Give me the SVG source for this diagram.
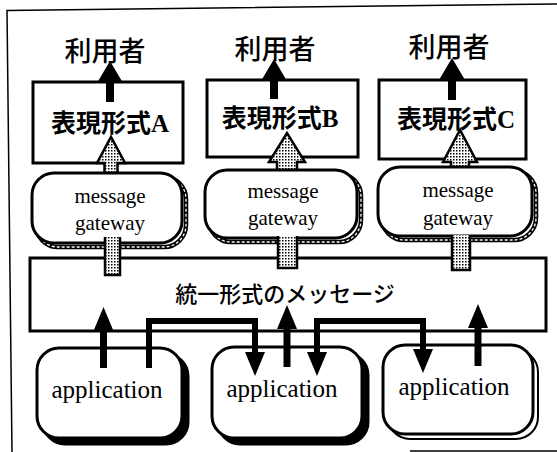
<svg xmlns="http://www.w3.org/2000/svg" width="557" height="452" viewBox="0 0 557 452">
<defs>
<style>
.frame{fill:none;stroke:#000;stroke-width:1.5}
.box{fill:#fff;stroke:#000;stroke-width:3}
.gw{fill:#fff;stroke:#000;stroke-width:3}
.gwsh{fill:none;stroke:#000;stroke-width:4.5}
.gwdash{fill:none;stroke:#fff;stroke-width:1.3;stroke-dasharray:3 2}
.appsh{fill:#000;stroke:#000;stroke-width:3}
.appsh2{fill:#fff;stroke:#000;stroke-width:2}
.dot{fill:url(#dots);stroke:#000;stroke-width:2.5;stroke-linejoin:miter}
.dotfill{fill:url(#dots);stroke:none}
.dotedge{fill:none;stroke:#000;stroke-width:2.5}
.conn{fill:none;stroke:#000;stroke-width:6}
.up{fill:none;stroke:#000;stroke-width:7}
.top{fill:none;stroke:#000;stroke-width:8}
.user{font-family:"Noto Sans CJK JP",sans-serif;font-size:27px;font-weight:500;text-anchor:middle}
.fmt{font-family:"Liberation Serif","DejaVu Serif","Noto Sans CJK JP",serif;font-size:25px;font-weight:700;text-anchor:middle}
.gwt{font-family:"Liberation Serif","DejaVu Serif",serif;font-size:21px;text-anchor:middle}
.msg{font-family:"Noto Sans CJK JP",sans-serif;font-size:22px;font-weight:500;text-anchor:middle}
.app{font-family:"Liberation Serif","DejaVu Serif",serif;font-size:25px;text-anchor:middle}
</style>
<pattern id="dots" width="3" height="3" patternUnits="userSpaceOnUse"><rect width="3" height="3" fill="#fff"/><rect width="1.5" height="1.5" fill="#000"/></pattern>
<marker id="ah" viewBox="0 0 24 20" refX="0" refY="10" markerWidth="24" markerHeight="20" markerUnits="userSpaceOnUse" orient="auto-start-reverse"><path d="M0,0 L24,10 L0,20 z" fill="#000"/></marker>
<marker id="ahTop" viewBox="0 0 22 26" refX="0" refY="13" markerWidth="22" markerHeight="26" markerUnits="userSpaceOnUse" orient="auto"><path d="M0,0 L22,13 L0,26 z" fill="#000"/></marker>
</defs>

<g id="frame">
<path class="frame" d="M557,4 L7,10.5 L12,452"/>
<path class="frame" d="M410,451 L557,451"/>
</g>

<g id="message-box">
<rect class="box" x="30" y="258" width="516" height="73"/>
<text class="msg" x="285" y="302">統一形式のメッセージ</text>
</g>

<g id="format-a">
<rect class="box" x="33" y="82" width="150" height="81"/>
<text class="fmt" x="110" y="132">表現形式A</text>
</g>
<g id="format-b">
<rect class="box" x="207" y="80" width="151" height="77"/>
<text class="fmt" x="280" y="127">表現形式B</text>
</g>
<g id="format-c">
<rect class="box" x="379" y="80" width="147" height="79"/>
<text class="fmt" x="456" y="128">表現形式C</text>
</g>

<g id="user-a"><text class="user" x="105" y="61">利用者</text></g>
<g id="user-b"><text class="user" x="275" y="59">利用者</text></g>
<g id="user-c"><text class="user" x="449" y="57">利用者</text></g>

<g id="connectors">
<polygon class="dot" points="104.5,176 104.5,163 97,163 111,137 125,163 117.5,163 117.5,176"/>
<polygon class="dot" points="277,174 277,162 269,162 287,133 305,162 297,162 297,174"/>
<polygon class="dot" points="451,170 451,162 443,162 460,130 477,162 469,162 469,170"/>
<path class="top" d="M110,102 V83" marker-end="url(#ahTop)"/>
<path class="top" d="M274,99 V81" marker-end="url(#ahTop)"/>
<path class="top" d="M452,100 V80" marker-end="url(#ahTop)"/>
</g>

<g id="gateway-a">
<rect class="gwsh" x="36" y="177" width="150" height="70" rx="22"/>
<rect class="gwdash" x="36" y="177" width="150" height="70" rx="22"/>
<rect class="gw" x="32" y="173" width="150" height="70" rx="22"/>
<text class="gwt" x="110" y="203">message</text>
<text class="gwt" x="110" y="230">gateway</text>
</g>
<g id="gateway-b">
<rect class="gwsh" x="209" y="174" width="152" height="68" rx="22"/>
<rect class="gwdash" x="209" y="174" width="152" height="68" rx="22"/>
<rect class="gw" x="205" y="170" width="152" height="68" rx="22"/>
<text class="gwt" x="283" y="198">message</text>
<text class="gwt" x="283" y="225">gateway</text>
</g>
<g id="gateway-c">
<rect class="gwsh" x="382" y="171" width="154" height="69" rx="22"/>
<rect class="gwdash" x="382" y="171" width="154" height="69" rx="22"/>
<rect class="gw" x="378" y="167" width="154" height="69" rx="22"/>
<text class="gwt" x="458" y="197">message</text>
<text class="gwt" x="458" y="225">gateway</text>
</g>

<g id="gateway-links">
<rect class="dotfill" x="105" y="237" width="15" height="38"/>
<path class="dotedge" d="M105,237 V275 H120 V237"/>
<rect class="dotfill" x="278" y="236" width="19" height="32"/>
<path class="dotedge" d="M278,236 V268 H297 V236"/>
<rect class="dotfill" x="452" y="235" width="18" height="35"/>
<path class="dotedge" d="M452,235 V270 H470 V235"/>
</g>

<g id="app-1">
<rect class="appsh" x="43" y="354" width="145" height="90" rx="22"/>
<rect class="box" x="37" y="348" width="145" height="90" rx="22"/>
<text class="app" x="107" y="398">application</text>
</g>
<g id="app-2">
<rect class="appsh" x="218" y="353" width="150" height="91" rx="22"/>
<rect class="box" x="212" y="347" width="150" height="91" rx="22"/>
<text class="app" x="282" y="397">application</text>
</g>
<g id="app-3">
<rect class="appsh2" x="388" y="350" width="150" height="89" rx="22"/>
<rect class="box" x="383" y="345" width="150" height="89" rx="22"/>
<text class="app" x="454" y="395">application</text>
</g>

<g id="app-connectors">
<path class="up" d="M103.5,368 V331" marker-end="url(#ah)"/>
<path class="up" d="M287,367 V329" marker-end="url(#ah)"/>
<path class="up" d="M478,366 V328" marker-end="url(#ah)"/>
<path class="conn" d="M149,368 V321 H255 V352" marker-end="url(#ah)"/>
<path class="conn" d="M317,352 V321 H423 V349" marker-start="url(#ah)" marker-end="url(#ah)"/>
</g>
</svg>
